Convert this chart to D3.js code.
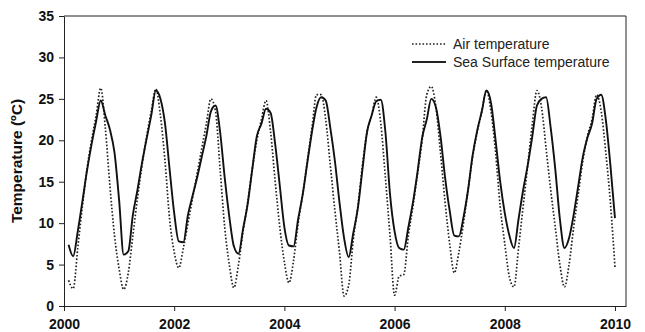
<!DOCTYPE html>
<html>
<head>
<meta charset="utf-8">
<script src="https://cdn.jsdelivr.net/npm/d3@7"></script>
<style>
  body { margin: 0; background: #fff; }
  svg { display: block; font-family: "Liberation Sans", Arial, sans-serif; }
</style>
</head>
<body>
<svg id="chart" width="645" height="332"></svg>
<script>
// monthly values, first point Feb 2000, last point Jan 2010
const sstValues = [
  7.4, 6.0, 9.0, 12.6, 16.3, 19.5, 22.3, 24.8, 23.0, 21.3, 18.5, 12.8,
  6.2, 6.6, 11.0, 14.0, 17.3, 20.2, 23.0, 26.0, 25.0, 22.0, 16.5, 11.2,
  7.8, 7.7, 11.0, 13.3, 15.5, 18.0, 20.5, 23.5, 24.2, 21.0, 15.5, 10.8,
  7.2, 6.3, 9.3, 12.3, 16.5, 20.5, 22.0, 23.8, 23.3, 19.5, 14.5, 9.5,
  7.3, 7.2, 10.5, 13.5, 17.3, 21.0, 24.0, 25.2, 24.8, 21.5, 17.5, 12.5,
  8.2, 5.9, 8.8, 11.8, 16.5, 21.0, 23.0, 24.7, 24.9, 21.0, 13.5, 9.0,
  7.0, 6.8, 9.5, 12.5, 16.2, 20.3, 22.5, 25.0, 24.0, 20.5, 15.5, 11.5,
  8.5, 8.4, 10.7, 14.0, 18.2, 21.2, 23.5, 26.0, 24.5, 20.0, 15.0, 11.2,
  8.5, 7.0, 10.5, 14.0, 17.0, 20.5, 24.2, 25.0, 25.2, 21.5, 16.5, 10.5,
  7.0, 8.2, 11.0, 14.5, 18.0, 20.3, 22.0, 25.0, 25.5, 22.5, 17.0, 10.6
];
const airValues = [
  3.1, 2.1, 7.0, 12.0, 16.5, 20.0, 23.0, 26.3, 21.5, 14.5, 8.5, 4.5,
  2.0, 4.0, 8.5, 13.0, 17.0, 20.5, 23.5, 26.2, 23.0, 17.5, 10.5, 6.5,
  4.6, 7.0, 10.0, 13.0, 16.0, 19.0, 22.0, 25.0, 23.5, 16.5, 9.5, 5.0,
  2.2, 5.0, 9.0, 12.5, 16.5, 20.0, 22.5, 24.8, 21.0, 15.0, 9.5, 5.3,
  2.8, 5.5, 10.0, 13.5, 17.5, 21.5, 25.5, 25.5, 22.5, 17.0, 11.5, 6.5,
  1.2, 2.5, 8.0, 12.0, 17.0, 21.0, 23.0, 25.2, 22.0, 15.5, 8.5, 1.3,
  3.6, 3.8, 8.5, 12.0, 16.0, 20.0, 25.5, 26.5, 24.0, 18.5, 12.5, 7.5,
  4.0, 6.5, 10.0, 14.0, 18.0, 21.0, 23.5, 26.0, 23.5, 18.5, 12.0, 7.5,
  3.5, 2.3, 7.0, 12.0, 17.0, 22.0, 26.0, 24.0, 19.0, 14.0, 9.5, 5.0,
  2.3, 5.0, 9.5, 13.5, 17.5, 20.5, 22.5, 25.5, 23.5, 18.5, 12.5, 4.7
];
const xTicks = [2000, 2002, 2004, 2006, 2008, 2010];
const yTicks = [0, 5, 10, 15, 20, 25, 30, 35];
const seriesNames = ["Air temperature", "Sea Surface temperature"];

const svg = d3.select("#chart");
const pLeft = 64, pRight = 626, pTop = 16, pBottom = 306;

const x = d3.scaleLinear().domain([2000, 2010.2]).range([pLeft, pRight]);
const y = d3.scaleLinear().domain([0, 35]).range([pBottom, pTop]);

// frame
svg.append("path")
  .attr("d", `M${pLeft},${pTop}H${pRight}V${pBottom}`)
  .attr("fill", "none").attr("stroke", "#222").attr("stroke-width", 1);

const xAxis = svg.append("g")
  .attr("transform", `translate(0,${pBottom})`)
  .call(d3.axisBottom(x).tickValues(xTicks).tickFormat(d3.format("d")).tickSizeInner(5).tickSizeOuter(0).tickPadding(8));
const yAxis = svg.append("g")
  .attr("transform", `translate(${pLeft},0)`)
  .call(d3.axisLeft(y).tickValues(yTicks).tickSizeInner(5).tickSizeOuter(0).tickPadding(5));

[xAxis, yAxis].forEach(g => {
  g.select(".domain").attr("stroke", "#222");
  g.selectAll(".tick line").attr("stroke", "#222");
  g.selectAll("text")
    .attr("font-family", '"Liberation Sans", Arial, sans-serif')
    .attr("font-size", 14).attr("font-weight", "bold").attr("fill", "#111");
});

svg.append("text")
  .attr("transform", `translate(22,${(pTop + pBottom) / 2}) rotate(-90)`)
  .attr("text-anchor", "middle")
  .attr("font-size", 15.5).attr("font-weight", "bold").attr("fill", "#111")
  .text("Temperature (ºC)");

const t = i => 2000 + (i + 1) / 12;
const line = d3.line()
  .x((d, i) => x(t(i)))
  .y(d => y(d))
  .curve(d3.curveMonotoneX);

svg.append("path")
  .datum(airValues)
  .attr("d", line)
  .attr("fill", "none").attr("stroke", "#222")
  .attr("stroke-width", 1.7).attr("stroke-dasharray", "1.6,1.9");

svg.append("path")
  .datum(sstValues)
  .attr("d", line)
  .attr("fill", "none").attr("stroke", "#111")
  .attr("stroke-width", 1.9);

// legend
const legend = svg.append("g");
seriesNames.forEach((name, i) => {
  const ly = 44 + i * 18;
  legend.append("line")
    .attr("x1", 412).attr("x2", 446).attr("y1", ly).attr("y2", ly)
    .attr("stroke", "#222")
    .attr("stroke-width", i === 0 ? 1.7 : 1.9)
    .attr("stroke-dasharray", i === 0 ? "1.6,1.9" : null);
  legend.append("text")
    .attr("x", 453).attr("y", ly).attr("dy", "0.35em")
    .attr("font-size", 14).attr("fill", "#222")
    .text(name);
});
</script>
</body>
</html>
